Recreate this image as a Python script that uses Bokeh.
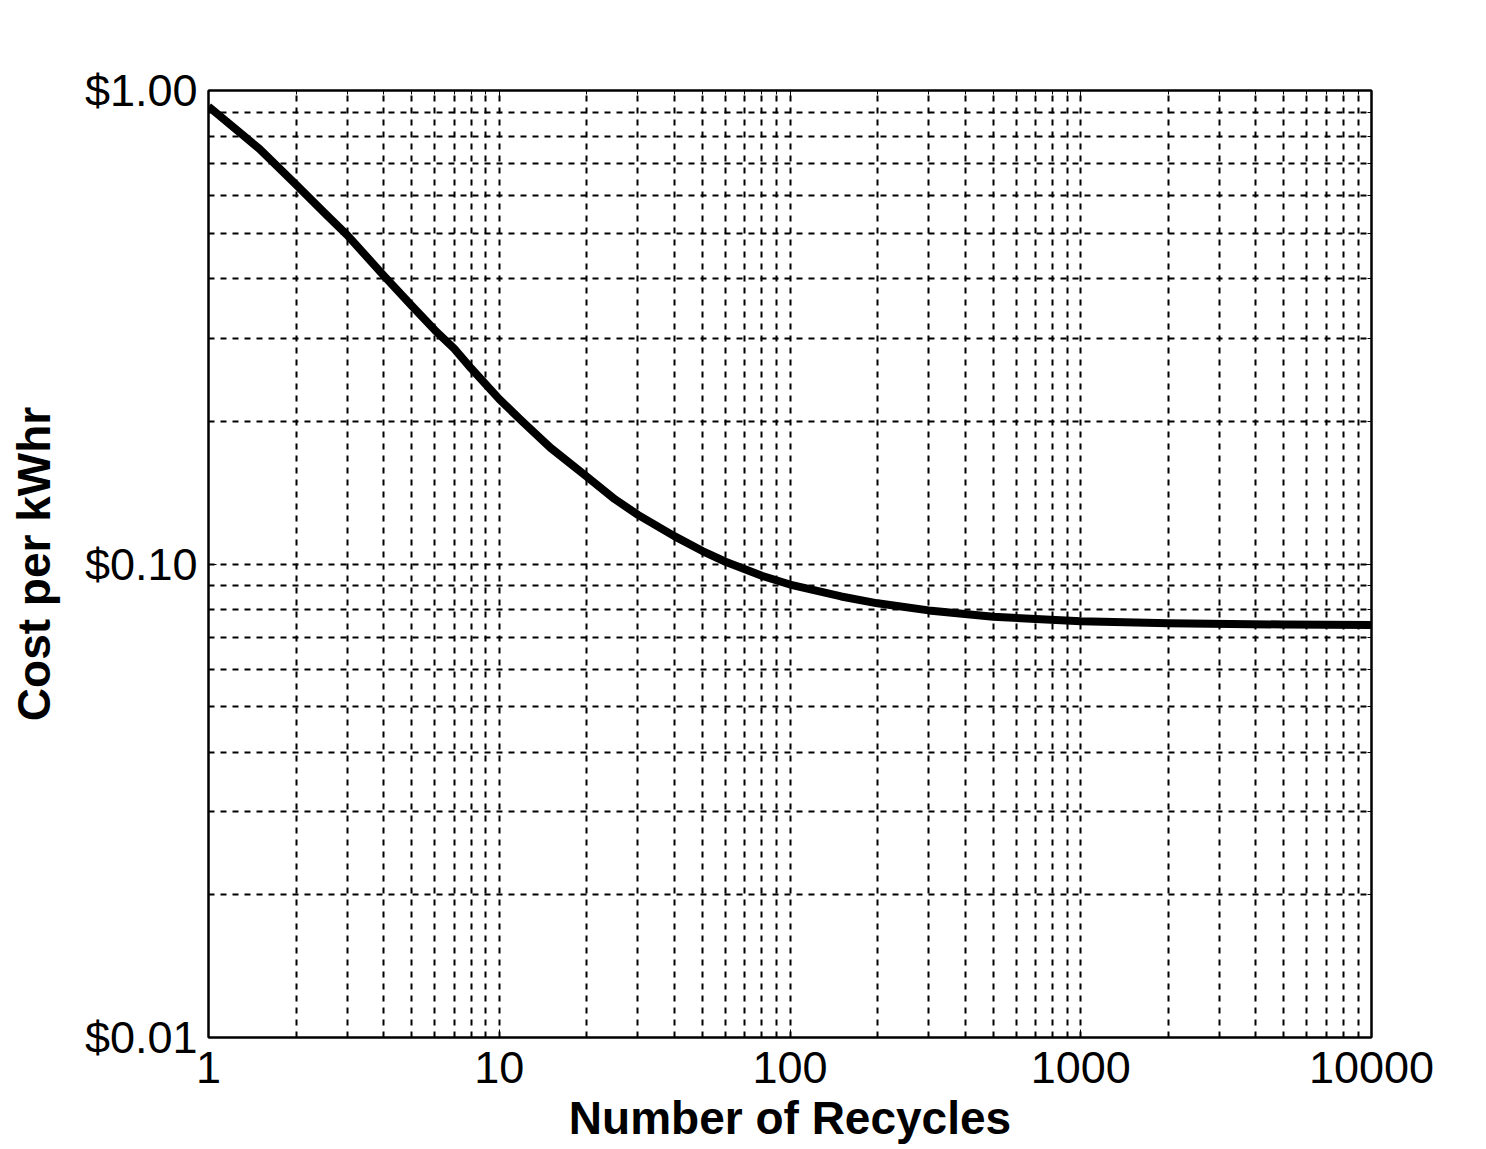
from bokeh.plotting import figure
from bokeh.models import FixedTicker, LogAxis
from bokeh.embed import file_html
from bokeh.resources import INLINE

# ---- data ----
recycles = [1, 1.5, 2, 2.5, 3, 4, 5, 6, 7, 8, 10, 12, 15, 20, 25, 30, 40, 50,
            60, 80, 100, 150, 200, 300, 500, 700, 1000, 2000, 5000, 10000]
cost = [0.925, 0.752, 0.633, 0.552, 0.495, 0.407, 0.351, 0.312, 0.285, 0.259,
        0.223, 0.200, 0.176, 0.153, 0.137, 0.127, 0.1145, 0.1065, 0.1011,
        0.0944, 0.0905, 0.0854, 0.0826, 0.0798, 0.0774, 0.0765, 0.0757,
        0.0750, 0.0745, 0.0743]

x_major = [1, 10, 100, 1000, 10000]
x_labels = ["1", "10", "100", "1000", "10000"]
y_major = [0.01, 0.1, 1.0]
y_labels = ["$0.01", "$0.10", "$1.00"]

x_minor = [m * d for d in [1, 10, 100, 1000] for m in range(2, 10)]
y_minor = [m * d for d in [0.01, 0.1] for m in range(2, 10)]

FONT = "Liberation Sans"

p = figure(width=1486, height=1149, x_axis_type="log", y_axis_type="log",
           x_range=(1, 10000), y_range=(0.01, 1.0),
           output_backend="svg", toolbar_location=None,
           min_border_left=208, min_border_right=115,
           min_border_top=90, min_border_bottom=112)
p.background_fill_color = "white"
p.border_fill_color = "white"
p.outline_line_color = "black"
p.outline_line_width = 2

xt = FixedTicker(ticks=x_major, minor_ticks=x_minor)
yt = FixedTicker(ticks=y_major, minor_ticks=y_minor)

p.xaxis.ticker = xt
p.yaxis.ticker = yt
p.xaxis.major_label_overrides = {v: s for v, s in zip(x_major, x_labels)}
p.yaxis.major_label_overrides = {v: s for v, s in zip(y_major, y_labels)}

for ax in (p.xaxis[0], p.yaxis[0]):
    ax.axis_line_color = "black"
    ax.axis_line_width = 2
    ax.major_tick_out = 0
    ax.major_tick_in = 8
    ax.minor_tick_out = 0
    ax.minor_tick_in = 4
    ax.major_tick_line_color = "black"
    ax.minor_tick_line_color = "black"
    ax.major_label_text_font = FONT
    ax.major_label_text_font_size = "45px"
    ax.major_label_text_color = "black"
    ax.axis_label_text_font = FONT
    ax.axis_label_text_font_size = "46px"
    ax.axis_label_text_font_style = "bold"
    ax.axis_label_text_color = "black"

p.xaxis.axis_label = "Number of Recycles"
p.yaxis.axis_label = "Cost per kWhr"
p.xaxis.major_label_standoff = 14
p.xaxis.axis_label_standoff = 6
p.yaxis.major_label_standoff = 11
p.yaxis.axis_label_standoff = 22

# mirrored axes (ticks only, labels invisible)
top = LogAxis(ticker=FixedTicker(ticks=x_major, minor_ticks=x_minor))
right = LogAxis(ticker=FixedTicker(ticks=y_major, minor_ticks=y_minor))
for ax in (top, right):
    ax.major_label_text_font_size = "8px"
    ax.major_label_text_alpha = 0
    ax.major_label_standoff = 0
    ax.axis_line_color = "black"
    ax.axis_line_width = 2
    ax.major_tick_out = 0
    ax.major_tick_in = 8
    ax.minor_tick_out = 0
    ax.minor_tick_in = 4
p.add_layout(top, "above")
p.add_layout(right, "right")

for g in (p.xgrid[0], p.ygrid[0]):
    g.grid_line_color = "black"
    g.grid_line_width = 2
    g.grid_line_dash = "6 6"
    g.minor_grid_line_color = "black"
    g.minor_grid_line_width = 2
    g.minor_grid_line_dash = "6 6"
p.xgrid[0].ticker = xt
p.ygrid[0].ticker = yt

p.line(recycles, cost, line_color="black", line_width=8, line_join="round")

open("out.html", "w").write(file_html(p, INLINE))
